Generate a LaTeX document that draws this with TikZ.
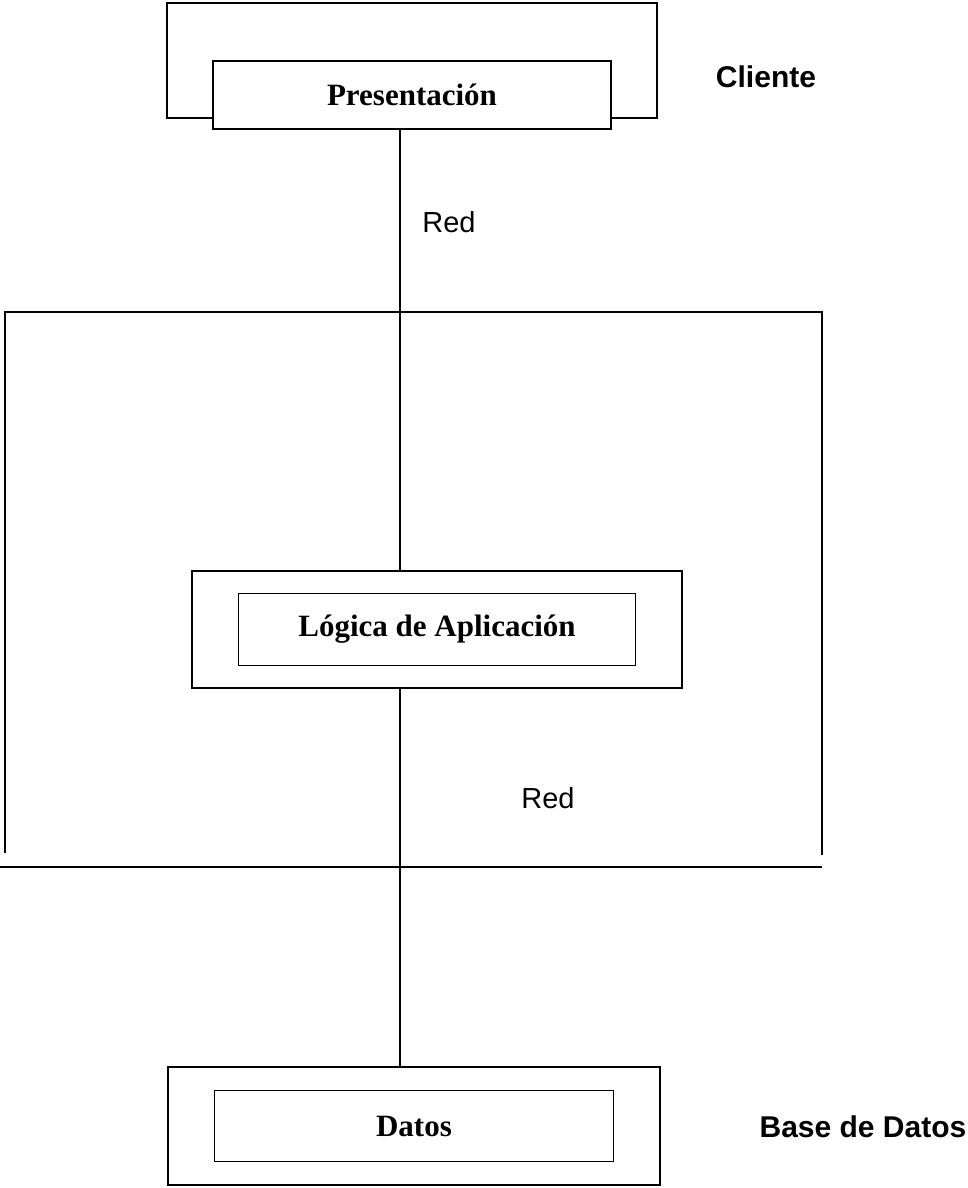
\documentclass[tikz,border=0pt]{standalone}
\usepackage{fontspec}
\setmainfont{Liberation Serif}
\setsansfont{Liberation Sans}
\usetikzlibrary{positioning}

\begin{document}
\begin{tikzpicture}[x=1pt, y=-1pt, line width=1.8pt,
  frame/.style={draw, inner sep=0},
  capa/.style={draw, fill=white, inner sep=0, font=\fontsize{31}{36}\selectfont\bfseries},
  tag/.style={inner sep=0, font=\sffamily\fontsize{29}{34}\selectfont},
  tier/.style={inner sep=0, font=\sffamily\bfseries\fontsize{30}{34}\selectfont}]
\useasboundingbox (0,0) rectangle (968,1188);
\coordinate (bus) at (400,0);
% cliente
\node[frame, minimum width=490, minimum height=115] (cli_frame) at (412,60.5) {};
\node[capa, minimum width=398, minimum height=68] (pres) at (412,95) {Presentación};
\node[tier] (cliente) at (766,77) {Cliente};
% servidor de aplicacion
\draw (5,853) |- (822,312) -- (822,855);
\draw (0,867) -- (822,867);
\node[frame, minimum width=490, minimum height=117] (log_frame) at (437,629.5) {};
\node[capa, minimum width=397, minimum height=72] (logica) at (log_frame) {Lógica de Aplicación};
% base de datos
\node[frame, minimum width=492, minimum height=118] (dat_frame) at (414,1126) {};
\node[capa, minimum width=399, minimum height=71] (datos) at (dat_frame) {Datos};
\node[tier] (base) at (863,1127) {Base de Datos};
% red
\draw (pres.south -| bus) -- (log_frame.north -| bus);
\draw (log_frame.south -| bus) -- (dat_frame.north -| bus);
\node[tag] (red_up) at (449,222) {Red};
\node[tag] (red_down) at (548,798) {Red};
%\draw[->] (pres) -- (logica);
\end{tikzpicture}
\end{document}
